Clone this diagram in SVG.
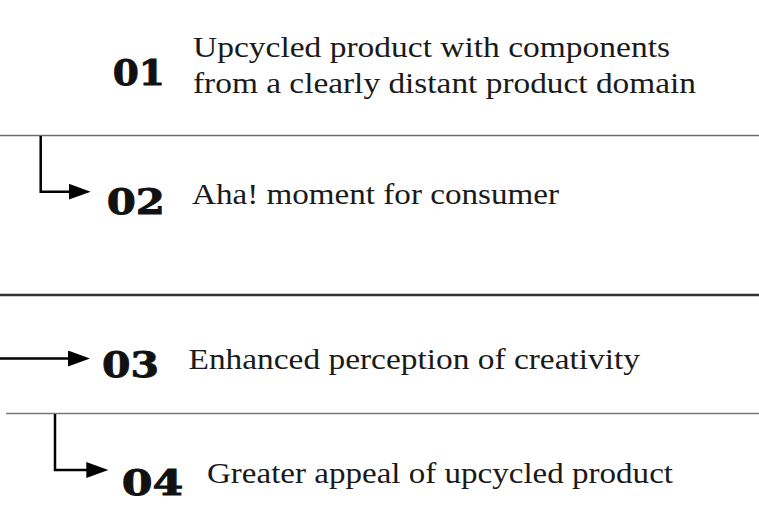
<svg xmlns="http://www.w3.org/2000/svg" width="759" height="531" viewBox="0 0 759 531">
  <style>
    .num { font-family: "DejaVu Serif", "Liberation Serif", serif; font-weight: bold; font-size: 36px; fill: #111; stroke: #111; stroke-width: 0.9; }
    .lbl { font-family: "Liberation Serif", "Times New Roman", serif; font-size: 29px; fill: #1a1a1a; }
    .sep { fill: none; }
    .conn { fill: none; stroke: #000; stroke-width: 2.5; }
  </style>
  <defs>
    <marker id="arrow" markerUnits="userSpaceOnUse" markerWidth="24" markerHeight="17" refX="11" refY="8" orient="auto">
      <path d="M0,0 L22,8 L0,16 Z" fill="#000"/>
    </marker>
  </defs>
  <rect width="759" height="531" fill="#fff"/>

  <g id="separators" class="sep">
    <line x1="0" y1="135.5" x2="759" y2="135.5" stroke="#6b6b6b" stroke-width="1.5"/>
    <line x1="0" y1="295" x2="759" y2="295" stroke="#333" stroke-width="2.5"/>
    <line x1="6" y1="413.5" x2="759" y2="413.5" stroke="#777" stroke-width="1.5"/>
  </g>

  <g id="connectors">
    <path class="conn" d="M40.7,136 V191.7 H79.7" marker-end="url(#arrow)"/>
    <path class="conn" d="M0,358.5 H79" marker-end="url(#arrow)"/>
    <path class="conn" d="M55,414 V470 H97.3" marker-end="url(#arrow)"/>
  </g>

  <g id="step1">
    <text class="num" x="112.7" y="85" textLength="52.3" lengthAdjust="spacingAndGlyphs">01</text>
    <text class="lbl" x="193" y="57" textLength="477" lengthAdjust="spacingAndGlyphs">Upcycled product with components</text>
    <text class="lbl" x="193" y="93" textLength="503" lengthAdjust="spacingAndGlyphs">from a clearly distant product domain</text>
  </g>

  <g id="step2">
    <text class="num" x="106.7" y="214" textLength="58.3" lengthAdjust="spacingAndGlyphs">02</text>
    <text class="lbl" x="192" y="203.5" textLength="367" lengthAdjust="spacingAndGlyphs">Aha! moment for consumer</text>
  </g>

  <g id="step3">
    <text class="num" x="102" y="377" textLength="57" lengthAdjust="spacingAndGlyphs">03</text>
    <text class="lbl" x="188.5" y="369" textLength="451.5" lengthAdjust="spacingAndGlyphs">Enhanced perception of creativity</text>
  </g>

  <g id="step4">
    <text class="num" x="121.7" y="495" textLength="61.6" lengthAdjust="spacingAndGlyphs">04</text>
    <text class="lbl" x="207" y="482.5" textLength="466" lengthAdjust="spacingAndGlyphs">Greater appeal of upcycled product</text>
  </g>
</svg>
